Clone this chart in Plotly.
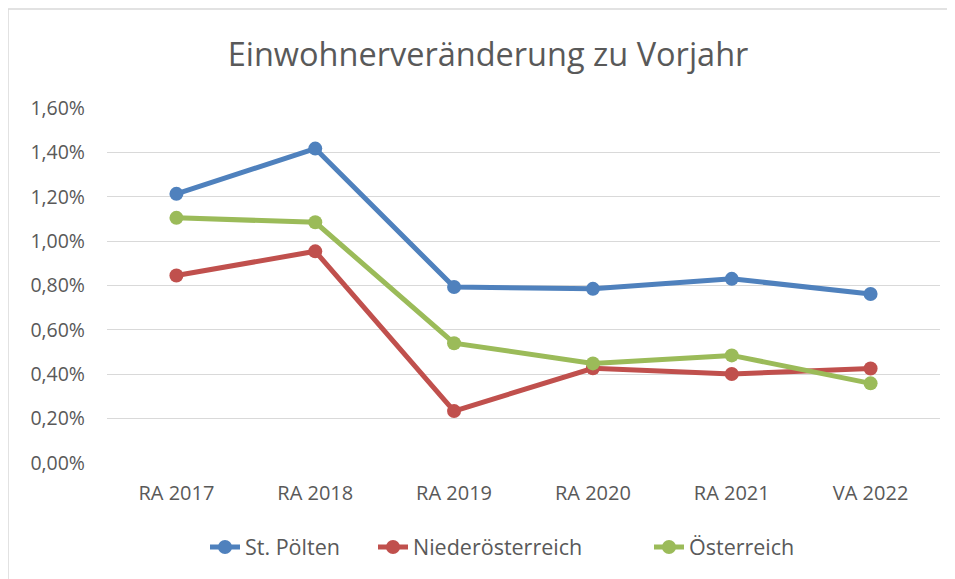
import plotly.graph_objects as go

categories = ["RA 2017", "RA 2018", "RA 2019", "RA 2020", "RA 2021", "VA 2022"]
st_poelten = [1.213, 1.417, 0.793, 0.785, 0.830, 0.762]
niederoesterreich = [0.845, 0.954, 0.234, 0.427, 0.401, 0.426]
oesterreich = [1.105, 1.085, 0.540, 0.449, 0.485, 0.359]
y_ticks = [0.0, 0.2, 0.4, 0.6, 0.8, 1.0, 1.2, 1.4, 1.6]
y_tick_labels = ["0,00%", "0,20%", "0,40%", "0,60%", "0,80%", "1,00%", "1,20%", "1,40%", "1,60%"]

W, H = 955, 579
OFF = 8  # page body margin offset
L, T = 107 - OFF, 108 - OFF
pw, ph = 833, 355
R = W - L - pw
B = H - T - ph

def px(x):
    return (x - OFF - L) / pw

def py(y):
    return (T + ph - (y - OFF)) / ph

font_family = "Open Sans, Noto Sans, sans-serif"
grey = "#595959"

fig = go.Figure()
series = [
    ("St. Pölten", st_poelten, "#4F81BD", "legend", 245),
    ("Niederösterreich", niederoesterreich, "#C0504D", "legend2", 413),
    ("Österreich", oesterreich, "#9BBB59", "legend3", 689),
]
legends = {}
for name, vals, col, lg, text_x in series:
    fig.add_trace(go.Scatter(
        x=categories, y=vals, name=name, mode="lines+markers",
        line=dict(color=col, width=5),
        marker=dict(color=col, size=14),
        legend=lg,
    ))
    legends[lg] = dict(orientation="h", x=px(text_x - 40), xanchor="left", y=py(547),
                       yanchor="middle", font=dict(size=21.5, color=grey),
                       bgcolor="rgba(0,0,0,0)")

fig.update_layout(
    width=W, height=H,
    margin=dict(l=L, r=R, t=T, b=B),
    paper_bgcolor="white", plot_bgcolor="white",
    font=dict(family=font_family, color=grey, size=19),
    title=dict(text="Einwohnerveränderung zu Vorjahr", x=px(488), xref="paper",
               xanchor="center", y=1 - (55 - OFF) / H, yanchor="middle",
               font=dict(size=32.5, color=grey, family=font_family)),
    showlegend=True,
    xaxis=dict(showgrid=False, showline=False, zeroline=False, ticks="",
               tickfont=dict(size=20, color=grey), range=[-0.5, 5.5],
               ticklabelstandoff=16),
    yaxis=dict(range=[0, 1.6], tickvals=y_ticks, ticktext=y_tick_labels,
               showgrid=True, gridcolor="#D9D9D9", gridwidth=1.3, zeroline=False,
               showline=False, ticks="", ticklen=0, tickfont=dict(size=19.5, color=grey),
               ticklabelstandoff=21),
    **legends,
)

fig.add_shape(type="line", xref="paper", yref="paper", x0=px(8), x1=px(960), y0=py(9), y1=py(9),
              line=dict(color="#D9D9D9", width=1.5))
fig.add_shape(type="line", xref="paper", yref="paper", x0=px(8), x1=px(8), y0=py(9), y1=py(590),
              line=dict(color="#D9D9D9", width=1.5))

fig.write_html("out.html")
